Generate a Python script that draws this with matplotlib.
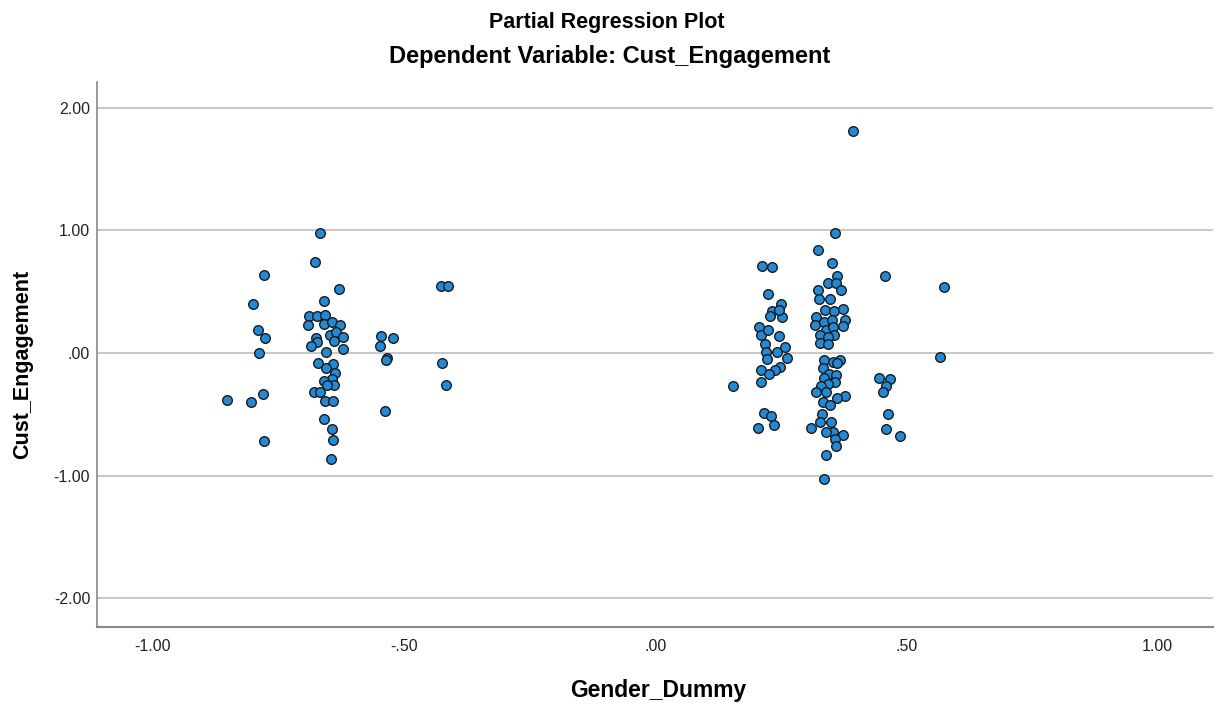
import matplotlib.pyplot as plt
import numpy as np

plt.rcParams['font.family'] = ['Liberation Sans', 'DejaVu Sans']

# Partial regression residuals (female group, left)
left_x = [-0.668, -0.677, -0.779, -0.629, -0.426, -0.413, -0.659, -0.801,
          -0.689, -0.673, -0.657, -0.692, -0.660, -0.643, -0.627, -0.790,
          -0.776, -0.675, -0.673, -0.686, -0.647, -0.636, -0.639, -0.621,
          -0.621, -0.655, -0.789, -0.546, -0.522, -0.548, -0.533, -0.535,
          -0.424, -0.416, -0.671, -0.641, -0.656, -0.638, -0.644, -0.659,
          -0.639, -0.653, -0.679, -0.667, -0.780, -0.853, -0.805, -0.657,
          -0.641, -0.538, -0.659, -0.644, -0.641, -0.779, -0.645]
left_y = [0.98, 0.74, 0.64, 0.52, 0.55, 0.55, 0.42, 0.40,
          0.30, 0.30, 0.31, 0.23, 0.24, 0.25, 0.23, 0.19,
          0.12, 0.12, 0.09, 0.06, 0.15, 0.17, 0.10, 0.13,
          0.03, 0.01, 0.00, 0.14, 0.12, 0.06, -0.04, -0.06,
          -0.08, -0.26, -0.08, -0.09, -0.12, -0.16, -0.21, -0.23,
          -0.26, -0.26, -0.32, -0.32, -0.33, -0.38, -0.40, -0.39,
          -0.39, -0.47, -0.54, -0.62, -0.71, -0.72, -0.86]

# (male group, right)
right_x = [0.357, 0.323, 0.213, 0.232, 0.351, 0.458, 0.361, 0.343, 0.359,
           0.370, 0.574, 0.323, 0.326, 0.347, 0.224, 0.250, 0.232, 0.228,
           0.253, 0.247, 0.337, 0.355, 0.373, 0.378, 0.373, 0.320, 0.317,
           0.335, 0.352, 0.339, 0.353, 0.355, 0.327, 0.343, 0.328, 0.343,
           0.206, 0.210, 0.225, 0.247, 0.218, 0.221, 0.242, 0.259, 0.262,
           0.222, 0.567, 0.249, 0.238, 0.211, 0.227, 0.211, 0.155, 0.335,
           0.353, 0.367, 0.361, 0.333, 0.345, 0.360, 0.335, 0.357, 0.343,
           0.329, 0.320, 0.340, 0.378, 0.361, 0.333, 0.347, 0.446, 0.468,
           0.460, 0.453, 0.216, 0.231, 0.205, 0.237, 0.463, 0.459, 0.487,
           0.332, 0.327, 0.310, 0.350, 0.353, 0.339, 0.373, 0.357, 0.359,
           0.340, 0.335, 0.394]
right_y = [0.98, 0.84, 0.71, 0.70, 0.73, 0.63, 0.63, 0.57, 0.57,
           0.51, 0.54, 0.51, 0.44, 0.44, 0.48, 0.40, 0.34, 0.30,
           0.29, 0.35, 0.35, 0.34, 0.36, 0.27, 0.22, 0.29, 0.23,
           0.25, 0.27, 0.19, 0.21, 0.15, 0.15, 0.13, 0.08, 0.07,
           0.21, 0.15, 0.19, 0.14, 0.07, 0.01, 0.01, 0.05, -0.04,
           -0.05, -0.03, -0.11, -0.14, -0.14, -0.17, -0.24, -0.27, -0.06,
           -0.07, -0.06, -0.08, -0.12, -0.17, -0.18, -0.20, -0.24, -0.25,
           -0.27, -0.32, -0.32, -0.35, -0.37, -0.40, -0.42, -0.20, -0.21,
           -0.27, -0.32, -0.49, -0.51, -0.61, -0.59, -0.50, -0.62, -0.68,
           -0.50, -0.56, -0.61, -0.56, -0.64, -0.64, -0.67, -0.70, -0.76,
           -0.83, -1.03, 1.81]

x_ticks = [-1.0, -0.5, 0.0, 0.5, 1.0]
x_labels = ['-1.00', '-.50', '.00', '.50', '1.00']
y_ticks = [-2.0, -1.0, 0.0, 1.0, 2.0]
y_labels = ['-2.00', '-1.00', '.00', '1.00', '2.00']

fig = plt.figure(figsize=(12.21, 7.07), dpi=100)
ax = fig.add_axes([0.0795, 0.1132, 0.914, 0.7708])

x = np.array(left_x + right_x)
y = np.array(left_y + right_y)
ax.scatter(x, y, s=48, facecolor='#2189d6', edgecolor='#1b1b1b',
           linewidth=1.0, zorder=3)

ax.set_xlim(-1.111, 1.110)
ax.set_ylim(-2.233, 2.209)
ax.set_xticks(x_ticks)
ax.set_xticklabels(x_labels)
ax.set_yticks(y_ticks)
ax.set_yticklabels(y_labels)
ax.tick_params(length=0, labelsize=11.5, colors='#222222')
ax.tick_params(axis='x', pad=9)
ax.tick_params(axis='y', pad=5)

for yv in y_ticks:
    ax.axhline(yv, color='#c4c4c4', linewidth=1.3, zorder=1)

for side in ['top', 'right']:
    ax.spines[side].set_visible(False)
ax.spines['left'].set_color('#888888')
ax.spines['bottom'].set_color('#888888')
ax.spines['left'].set_linewidth(1.2)
ax.spines['bottom'].set_linewidth(1.5)

# axis titles and chart titles placed on the figure
fig.text(0.539, 0.0141, 'Gender_Dummy', ha='center', va='baseline',
         fontsize=16.5, fontweight='bold')
fig.text(0.0188, 0.485, 'Cust_Engagement', ha='center', va='center',
         rotation=90, fontsize=15.5, fontweight='bold')

fig.text(0.497, 0.9604, 'Partial Regression Plot', ha='center', va='baseline',
         fontsize=15.5, fontweight='bold')
fig.text(0.4995, 0.911, 'Dependent Variable: Cust_Engagement', ha='center',
         va='baseline', fontsize=17, fontweight='bold')

fig.savefig('out.png', dpi=100)
